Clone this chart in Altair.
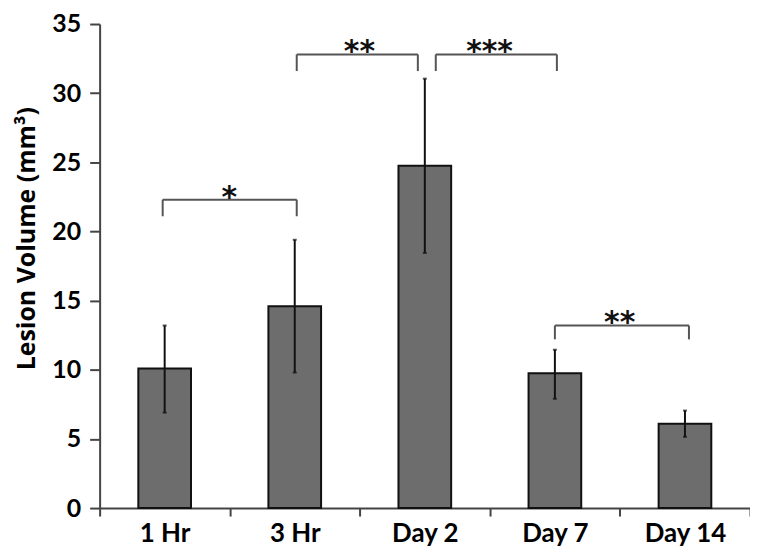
import altair as alt
import pandas as pd

categories = ["1 Hr", "3 Hr", "Day 2", "Day 7", "Day 14"]
means = [10.1, 14.6, 24.75, 9.75, 6.1]
err_low = [6.9, 9.8, 18.45, 7.9, 5.15]
err_high = [13.2, 19.4, 31.05, 11.45, 7.05]

br_left = ["1 Hr", "3 Hr", "Day 2", "Day 7"]
br_right = ["3 Hr", "Day 2", "Day 7", "Day 14"]
br_level = [22.3, 32.8, 32.8, 13.2]
br_drop = [21.1, 31.6, 31.6, 12.2]
br_label = ["*", "**", "***", "**"]
# pixel nudges of bracket ends (styling)
br_off_l = [-2, 2, 11, 0]
br_off_r = [2, -7, 2, 4]

FONT = "Lato"
df = pd.DataFrame({"time": categories, "mean": means, "lo": err_low, "hi": err_high})

xscale = alt.Scale(domain=categories, paddingInner=0, paddingOuter=0)
yscale = alt.Scale(domain=[0, 35])

X = alt.X("time:N", scale=xscale, sort=categories,
          axis=alt.Axis(title=None, tickBand="extent", labelAngle=0, labelFont=FONT,
                        labelFontSize=26, labelFontWeight="bold", labelColor="black",
                        tickSize=8, tickColor="#444", domainColor="#444", tickWidth=2,
                        domainWidth=2, labelPadding=5))
Y = alt.Y("mean:Q", scale=yscale,
          axis=alt.Axis(values=list(range(0, 36, 5)), grid=False, title="Lesion Volume (mm³)",
                        titleFont="Open Sans", titleFontSize=25, titleFontWeight="bold",
                        titleColor="black",
                        titleAngle=270, titleX=-73, titleY=215, titleAlign="center",
                        titleBaseline="middle",
                        labelFont=FONT, labelFontSize=25, labelFontWeight="bold", labelColor="black",
                        tickSize=10, tickColor="#444", domainColor="#444", tickWidth=2,
                        domainWidth=2, labelPadding=9))

bars = alt.Chart(df).mark_bar(color="#6d6d6d", stroke="#111", strokeWidth=2,
                              width=alt.RelativeBandSize(0.405)).encode(x=X, y=Y)
errs = alt.Chart(df).mark_rule(color="#111", strokeWidth=2).encode(
    x=alt.X("time:N", scale=xscale, sort=categories),
    y=alt.Y("lo:Q", scale=yscale), y2="hi:Q")
caps = alt.Chart(df).transform_fold(["lo", "hi"], as_=["k", "v"]).mark_tick(
    color="#111", thickness=2, size=4, orient="horizontal").encode(
    x=alt.X("time:N", scale=xscale, sort=categories),
    y=alt.Y("v:Q", scale=yscale))

layers = [bars, errs, caps]
for i in range(len(br_label)):
    d = pd.DataFrame({"l": [br_left[i]], "r": [br_right[i]], "lev": [br_level[i]],
                      "drop": [br_drop[i]], "lab": [br_label[i]]})
    base = alt.Chart(d)
    h = base.mark_rule(color="#555", strokeWidth=2, xOffset=br_off_l[i], x2Offset=br_off_r[i]).encode(
        x=alt.X("l:N", scale=xscale, sort=categories), x2="r:N",
        y=alt.Y("lev:Q", scale=yscale))
    vl = base.mark_rule(color="#555", strokeWidth=2, xOffset=br_off_l[i]).encode(
        x=alt.X("l:N", scale=xscale, sort=categories),
        y=alt.Y("lev:Q", scale=yscale), y2="drop:Q")
    vr = base.mark_rule(color="#555", strokeWidth=2, xOffset=br_off_r[i]).encode(
        x=alt.X("r:N", scale=xscale, sort=categories),
        y=alt.Y("lev:Q", scale=yscale), y2="drop:Q")
    layers += [h, vl, vr]

br_df = pd.DataFrame({"l": br_left, "r": br_right, "lev": br_level, "lab": br_label})
stars = alt.Chart(br_df).mark_text(
    font="DejaVu Sans", fontSize=30, fontWeight="bold", color="#111", baseline="alphabetic",
    dy=7, dx=65).encode(
    x=alt.X("l:N", scale=xscale, sort=categories),
    y=alt.Y("lev:Q", scale=yscale), text="lab:N")
layers.append(stars)

chart = alt.layer(*layers).properties(
    width=653, height=486,
    autosize=alt.AutoSizeParams(type="none"),
    padding={"left": 92, "top": 15, "right": 0, "bottom": 40},
).configure_view(stroke=None)

chart.save("out.html", embed_options={"renderer": "svg", "actions": False})
